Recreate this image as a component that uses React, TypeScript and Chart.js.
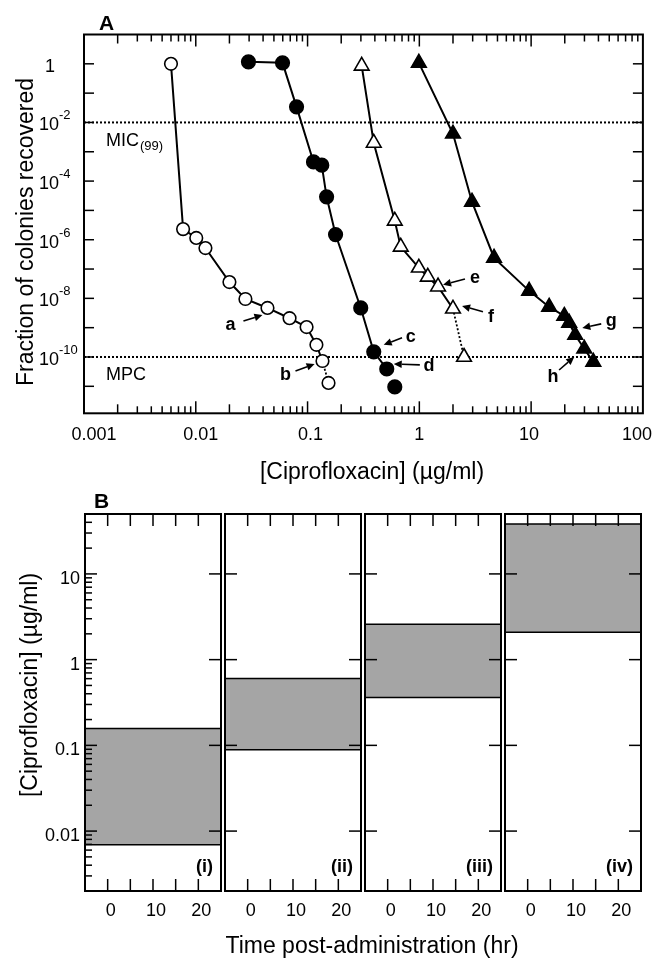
import React, { useEffect, useRef } from 'react';
import { Chart, registerables } from 'chart.js';

Chart.register(...registerables);

const FONT = '"Liberation Sans", Arial, Helvetica, sans-serif';
Chart.defaults.font.family = FONT;
Chart.defaults.color = '#000';

// ---------------- Panel A data ----------------
const X_RANGE = [0.001, 100];
const Y_RANGE = [1.2e-12, 10];
const X_TICK_VALUES = [0.001, 0.01, 0.1, 1, 10, 100];
const X_TICK_LABELS = ['0.001', '0.01', '0.1', '1', '10', '100'];
const Y_TICK_EXPONENTS = [0, -2, -4, -6, -8, -10];
const MIC_LEVEL = 1e-2;
const MPC_LEVEL = 1e-10;

const OPEN_CIRCLE_X = [0.006, 0.0077, 0.0101, 0.0122, 0.02, 0.0278, 0.0438, 0.069, 0.098, 0.12, 0.136, 0.154];
const OPEN_CIRCLE_Y = [1, 2.3e-6, 1.15e-6, 5.2e-7, 3.6e-8, 9.5e-9, 4.7e-9, 2.1e-9, 1.05e-9, 2.6e-10, 7.3e-11, 1.3e-11];
const FILLED_CIRCLE_X = [0.0296, 0.0597, 0.0797, 0.113, 0.134, 0.148, 0.178, 0.299, 0.391, 0.511, 0.603];
const FILLED_CIRCLE_Y = [1.17, 1.08, 0.034, 4.5e-4, 3.5e-4, 2.9e-5, 1.5e-6, 4.7e-9, 1.5e-10, 3.9e-11, 9.5e-12];
const OPEN_TRIANGLE_X = [0.305, 0.391, 0.603, 0.682, 0.99, 1.19, 1.47, 2.0, 2.51];
const OPEN_TRIANGLE_Y = [0.85, 2.0e-3, 4.4e-6, 5.7e-7, 1.1e-7, 5.4e-8, 2.5e-8, 4.4e-9, 1e-10];
const FILLED_TRIANGLE_X = [0.99, 2.0, 2.96, 4.66, 9.6, 14.5, 19.8, 21.9, 24.8, 29.9, 36.0];
const FILLED_TRIANGLE_Y = [1.08, 4.1e-3, 1.95e-5, 2.4e-7, 1.8e-8, 5.1e-9, 2.5e-9, 1.45e-9, 5.6e-10, 1.9e-10, 6.8e-11];

const ARROW_LABELS = ['a', 'b', 'c', 'd', 'e', 'f', 'g', 'h'];
const ARROW_TEXT_X = [0.0204, 0.0636, 0.84, 1.22, 3.15, 4.37, 52, 15.7];
const ARROW_TEXT_Y = [1.23e-9, 2.4e-11, 4.8e-10, 4.9e-11, 5e-8, 2.3e-9, 1.7e-9, 2.1e-11];
const ARROW_TAIL_X = [0.0267, 0.078, 0.7, 1.01, 2.56, 3.71, 42.4, 17.8];
const ARROW_TAIL_Y = [1.7e-9, 3.3e-11, 4.5e-10, 5.4e-11, 4.6e-8, 3.5e-9, 1.35e-9, 3.6e-11];
const ARROW_HEAD_X = [0.0395, 0.1156, 0.48, 0.59, 1.63, 2.41, 28.7, 24.3];
const ARROW_HEAD_Y = [2.7e-9, 5.8e-11, 2.6e-10, 5.8e-11, 2.9e-8, 5.5e-9, 9.8e-10, 1e-10];

// ---------------- Panel B data ----------------
const TIME_RANGE = [-5, 25];
const TIME_TICK_VALUES = [0, 5, 10, 15, 20];
const TIME_LABEL_VALUES = [0, 10, 20];
const CONC_RANGE = [0.002, 50];
const CONC_TICK_VALUES = [0.01, 0.1, 1, 10];
const CONC_TICK_LABELS = ['0.01', '0.1', '1', '10'];
const BAND_LOW = [0.00695, 0.089, 0.361, 2.08];
const BAND_HIGH = [0.157, 0.603, 2.58, 38.1];
const PANEL_NAMES = ['(i)', '(ii)', '(iii)', '(iv)'];

// ---------------- Styles / layout ----------------
const W = 653;
const A_H = 490;
const A_PAD = { left: 84, top: 34.5, right: 10, bottom: 76.7 };
const X_LABEL_NUDGE = [10, 5, 3, 0, -2, 0];
const SERIES = [
  { xs: OPEN_CIRCLE_X, ys: OPEN_CIRCLE_Y },
  { xs: FILLED_CIRCLE_X, ys: FILLED_CIRCLE_Y },
  { xs: OPEN_TRIANGLE_X, ys: OPEN_TRIANGLE_Y },
  { xs: FILLED_TRIANGLE_X, ys: FILLED_TRIANGLE_Y },
];
const SERIES_STYLES = [
  { pointStyle: 'circle', filled: false, radius: 6.3, tail: 'dashed' },
  { pointStyle: 'circle', filled: true, radius: 6.8, tail: 'none' },
  { pointStyle: 'triangle', filled: false, radius: 8.5, tail: 'dashed' },
  { pointStyle: 'triangle', filled: true, radius: 8.5, tail: 'solid' },
];
const B_CANVAS_TOP = 490;
const B_H = 470;
const B_PLOT_TOP = 514;
const B_AXIS_H = 69;
const B_PANEL_LEFT = [85, 225, 365, 505];
const B_PANEL_W = 136;
const BAND_COLOR = '#a5a5a5';

function line(ctx: CanvasRenderingContext2D, x0: number, y0: number, x1: number, y1: number) {
  ctx.beginPath();
  ctx.moveTo(x0, y0);
  ctx.lineTo(x1, y1);
  ctx.stroke();
}

function drawArrow(ctx: CanvasRenderingContext2D, x0: number, y0: number, x1: number, y1: number) {
  const ang = Math.atan2(y1 - y0, x1 - x0);
  const L = 8;
  const H = 3.8;
  const bx = x1 - L * Math.cos(ang);
  const by = y1 - L * Math.sin(ang);
  line(ctx, x0, y0, bx, by);
  ctx.beginPath();
  ctx.moveTo(x1, y1);
  ctx.lineTo(bx + H * Math.sin(ang), by - H * Math.cos(ang));
  ctx.lineTo(bx - H * Math.sin(ang), by + H * Math.cos(ang));
  ctx.closePath();
  ctx.fill();
}

const panelAPlugin = {
  id: 'panelADecor',
  afterDraw(chart: any) {
    const { ctx, chartArea: ca } = chart;
    const x = chart.scales.x;
    const y = chart.scales.y;
    ctx.save();
    ctx.strokeStyle = '#000';
    ctx.fillStyle = '#000';

    // frame
    ctx.lineWidth = 2;
    ctx.strokeRect(ca.left, ca.top, ca.right - ca.left, ca.bottom - ca.top);

    // y ticks (every decade), both sides
    ctx.lineWidth = 1.5;
    for (let e = -11; e <= 0; e++) {
      const py = y.getPixelForValue(Math.pow(10, e));
      line(ctx, ca.left, py, ca.left + 10, py);
      line(ctx, ca.right - 10, py, ca.right, py);
    }
    // x ticks, top and bottom
    for (let d = -3; d <= 1; d++) {
      for (let m = 1; m <= 9; m++) {
        const v = m * Math.pow(10, d);
        if (d === -3 && m === 1) continue;
        const px = x.getPixelForValue(v);
        const len = m === 1 ? 12 : m === 2 ? 9 : 7;
        line(ctx, px, ca.top, px, ca.top + len);
        line(ctx, px, ca.bottom, px, ca.bottom - len);
      }
    }

    // y tick labels with superscripts
    ctx.textBaseline = 'alphabetic';
    Y_TICK_EXPONENTS.forEach((e) => {
      const py = y.getPixelForValue(Math.pow(10, e));
      const base = py + 8;
      ctx.font = `18px ${FONT}`;
      if (e === 0) {
        ctx.textAlign = 'center';
        ctx.fillText('1', 50, base);
      } else {
        ctx.textAlign = 'left';
        ctx.fillText('10', 39, base);
        const w = ctx.measureText('10').width;
        ctx.font = `13px ${FONT}`;
        ctx.fillText(String(e), 39 + w, base - 11);
      }
    });

    // x tick labels
    ctx.font = `18px ${FONT}`;
    ctx.textAlign = 'center';
    X_TICK_VALUES.forEach((v, i) => {
      const label = X_TICK_LABELS[i];
      const w = ctx.measureText(label).width;
      let px = x.getPixelForValue(v) + X_LABEL_NUDGE[i];
      px = Math.min(px, chart.width - w / 2 - 1);
      ctx.fillText(label, px, ca.bottom + 27);
    });

    // axis titles
    ctx.font = `23px ${FONT}`;
    ctx.textAlign = 'center';
    ctx.fillText('[Ciprofloxacin] (\u00b5g/ml)', 372, ca.bottom + 66);
    ctx.save();
    ctx.translate(33, 232);
    ctx.rotate(-Math.PI / 2);
    ctx.fillText('Fraction of colonies recovered', 0, 0);
    ctx.restore();

    // panel letter
    ctx.font = `bold 21px ${FONT}`;
    ctx.textAlign = 'left';
    ctx.fillText('A', 99, ca.top - 5);

    // threshold labels
    const micY = y.getPixelForValue(MIC_LEVEL);
    const mpcY = y.getPixelForValue(MPC_LEVEL);
    ctx.font = `18px ${FONT}`;
    ctx.fillText('MIC', ca.left + 22, micY + 24);
    const mw = ctx.measureText('MIC').width;
    ctx.font = `13px ${FONT}`;
    ctx.fillText('(99)', ca.left + 22 + mw + 1, micY + 28);
    ctx.font = `18px ${FONT}`;
    ctx.fillText('MPC', ca.left + 22, mpcY + 23);

    // annotation arrows
    ctx.lineWidth = 1.6;
    ctx.font = `bold 18px ${FONT}`;
    ctx.textAlign = 'center';
    ctx.textBaseline = 'middle';
    ARROW_LABELS.forEach((lab, i) => {
      ctx.fillText(lab, x.getPixelForValue(ARROW_TEXT_X[i]), y.getPixelForValue(ARROW_TEXT_Y[i]));
      drawArrow(
        ctx,
        x.getPixelForValue(ARROW_TAIL_X[i]),
        y.getPixelForValue(ARROW_TAIL_Y[i]),
        x.getPixelForValue(ARROW_HEAD_X[i]),
        y.getPixelForValue(ARROW_HEAD_Y[i])
      );
    });
    ctx.restore();
  },
};

function PanelA() {
  const ref = useRef<HTMLCanvasElement>(null);
  useEffect(() => {
    const datasets: any[] = SERIES.map((s, si) => {
      const st = SERIES_STYLES[si];
      const n = s.xs.length;
      const isTail = (c: any) => c.p1DataIndex === n - 1;
      return {
        data: s.xs.map((v, i) => ({ x: v, y: s.ys[i] })),
        borderColor: '#000',
        borderWidth: 2,
        pointStyle: st.pointStyle,
        pointRadius: st.radius,
        pointBackgroundColor: st.filled ? '#000' : '#fff',
        pointBorderColor: '#000',
        pointBorderWidth: 1.6,
        fill: false,
        tension: 0,
        order: 1,
        segment: {
          borderDash: (c: any) => (st.tail === 'dashed' && isTail(c) ? [2, 2] : undefined),
          borderWidth: (c: any) => (st.tail === 'dashed' && isTail(c) ? 1.8 : undefined),
          borderColor: (c: any) => (st.tail === 'none' && isTail(c) ? 'rgba(0,0,0,0)' : undefined),
        },
      };
    });
    [MIC_LEVEL, MPC_LEVEL].forEach((lvl) => {
      datasets.push({
        data: X_RANGE.map((v) => ({ x: v, y: lvl })),
        borderColor: '#000',
        borderWidth: 2,
        borderDash: [2, 2],
        pointRadius: 0,
        fill: false,
        order: 10,
      });
    });
    const chart = new Chart(ref.current as HTMLCanvasElement, {
      type: 'line',
      data: { datasets },
      options: {
        responsive: false,
        animation: false,
        events: [],
        layout: { padding: A_PAD },
        plugins: { legend: { display: false }, tooltip: { enabled: false } },
        scales: {
          x: { type: 'logarithmic', min: X_RANGE[0], max: X_RANGE[1], display: false },
          y: { type: 'logarithmic', min: Y_RANGE[0], max: Y_RANGE[1], display: false },
        },
      } as any,
      plugins: [panelAPlugin],
    });
    return () => chart.destroy();
  }, []);
  return (
    <canvas
      ref={ref}
      width={W}
      height={A_H}
      style={{ position: 'absolute', left: 0, top: 0, width: W, height: A_H }}
    />
  );
}

function PanelB({ index }: { index: number }) {
  const ref = useRef<HTMLCanvasElement>(null);
  useEffect(() => {
    const first = index === 0;
    const left = B_PANEL_LEFT[index];
    const plugin = {
      id: 'panelBDecor' + index,
      afterDraw(chart: any) {
        const { ctx, chartArea: ca } = chart;
        const x = chart.scales.x;
        const y = chart.scales.y;
        ctx.save();
        ctx.strokeStyle = '#000';
        ctx.fillStyle = '#000';
        ctx.lineWidth = 2;
        ctx.strokeRect(ca.left, ca.top, ca.right - ca.left, ca.bottom - ca.top);
        ctx.lineWidth = 1.5;
        TIME_TICK_VALUES.forEach((t) => {
          const px = x.getPixelForValue(t);
          line(ctx, px, ca.top, px, ca.top + 12);
          line(ctx, px, ca.bottom, px, ca.bottom - 12);
        });
        for (let d = -3; d <= 1; d++) {
          for (let m = 1; m <= 9; m++) {
            const v = m * Math.pow(10, d);
            if (v < CONC_RANGE[0] || v > CONC_RANGE[1]) continue;
            const py = y.getPixelForValue(v);
            if (m === 1) {
              line(ctx, ca.left, py, ca.left + 12, py);
              line(ctx, ca.right - 12, py, ca.right, py);
            } else if (first) {
              line(ctx, ca.left, py, ca.left + 7, py);
            }
          }
        }
        ctx.font = `bold 18px ${FONT}`;
        ctx.textAlign = 'right';
        ctx.textBaseline = 'alphabetic';
        ctx.fillText(PANEL_NAMES[index], ca.right - 8, ca.bottom - 19);
        if (first) {
          ctx.font = `bold 21px ${FONT}`;
          ctx.textAlign = 'left';
          ctx.fillText('B', 94, ca.top - 6);
          ctx.font = `23px ${FONT}`;
          ctx.textAlign = 'center';
          ctx.fillText('Time post-administration (hr)', 372, ca.bottom + 62);
          ctx.save();
          ctx.translate(37, ca.top + 171);
          ctx.rotate(-Math.PI / 2);
          ctx.fillText('[Ciprofloxacin] (\u00b5g/ml)', 0, 0);
          ctx.restore();
        }
        ctx.restore();
      },
    };
    const yScale: any = first
      ? {
          type: 'logarithmic',
          min: CONC_RANGE[0],
          max: CONC_RANGE[1],
          grid: { display: false, drawTicks: false },
          border: { display: false },
          afterBuildTicks: (s: any) => {
            s.ticks = CONC_TICK_VALUES.map((v) => ({ value: v }));
          },
          afterFit: (s: any) => {
            s.width = left;
            s.paddingTop = 0;
            s.paddingBottom = 0;
          },
          ticks: {
            font: { family: FONT, size: 18 },
            color: '#000',
            padding: 5,
            labelOffset: 5,
            autoSkip: false,
            callback: (_v: any, i: number) => CONC_TICK_LABELS[i],
          },
        }
      : { type: 'logarithmic', min: CONC_RANGE[0], max: CONC_RANGE[1], display: false };
    const chart = new Chart(ref.current as HTMLCanvasElement, {
      type: 'line',
      data: {
        datasets: [
          {
            data: TIME_RANGE.map((t) => ({ x: t, y: BAND_LOW[index] })),
            borderColor: '#000',
            borderWidth: 1.5,
            pointRadius: 0,
            fill: false,
          },
          {
            data: TIME_RANGE.map((t) => ({ x: t, y: BAND_HIGH[index] })),
            borderColor: '#000',
            borderWidth: 1.5,
            pointRadius: 0,
            fill: '-1',
            backgroundColor: BAND_COLOR,
          },
        ],
      },
      options: {
        responsive: false,
        animation: false,
        events: [],
        layout: {
          padding: {
            left: first ? 0 : left,
            right: W - left - B_PANEL_W,
            top: B_PLOT_TOP - B_CANVAS_TOP,
            bottom: 0,
          },
        },
        plugins: { legend: { display: false }, tooltip: { enabled: false } },
        scales: {
          x: {
            type: 'linear',
            min: TIME_RANGE[0],
            max: TIME_RANGE[1],
            grid: { display: false, drawTicks: false },
            border: { display: false },
            afterBuildTicks: (s: any) => {
              s.ticks = TIME_LABEL_VALUES.map((v) => ({ value: v }));
            },
            afterFit: (s: any) => {
              s.height = B_AXIS_H;
              s.paddingLeft = 0;
              s.paddingRight = 0;
            },
            ticks: {
              font: { family: FONT, size: 18 },
              color: '#000',
              padding: 9,
              labelOffset: 3,
              maxRotation: 0,
              autoSkip: false,
              callback: (v: any) => String(v),
            },
          },
          y: yScale,
        },
      } as any,
      plugins: [plugin],
    });
    return () => chart.destroy();
  }, [index]);
  return (
    <canvas
      ref={ref}
      width={W}
      height={B_H}
      style={{ position: 'absolute', left: 0, top: B_CANVAS_TOP, width: W, height: B_H }}
    />
  );
}

export default function App() {
  return (
    <div style={{ position: 'absolute', left: 0, top: 0, width: W, height: 960, background: '#fff' }}>
      <PanelA />
      {PANEL_NAMES.map((_, i) => (
        <PanelB key={i} index={i} />
      ))}
    </div>
  );
}
